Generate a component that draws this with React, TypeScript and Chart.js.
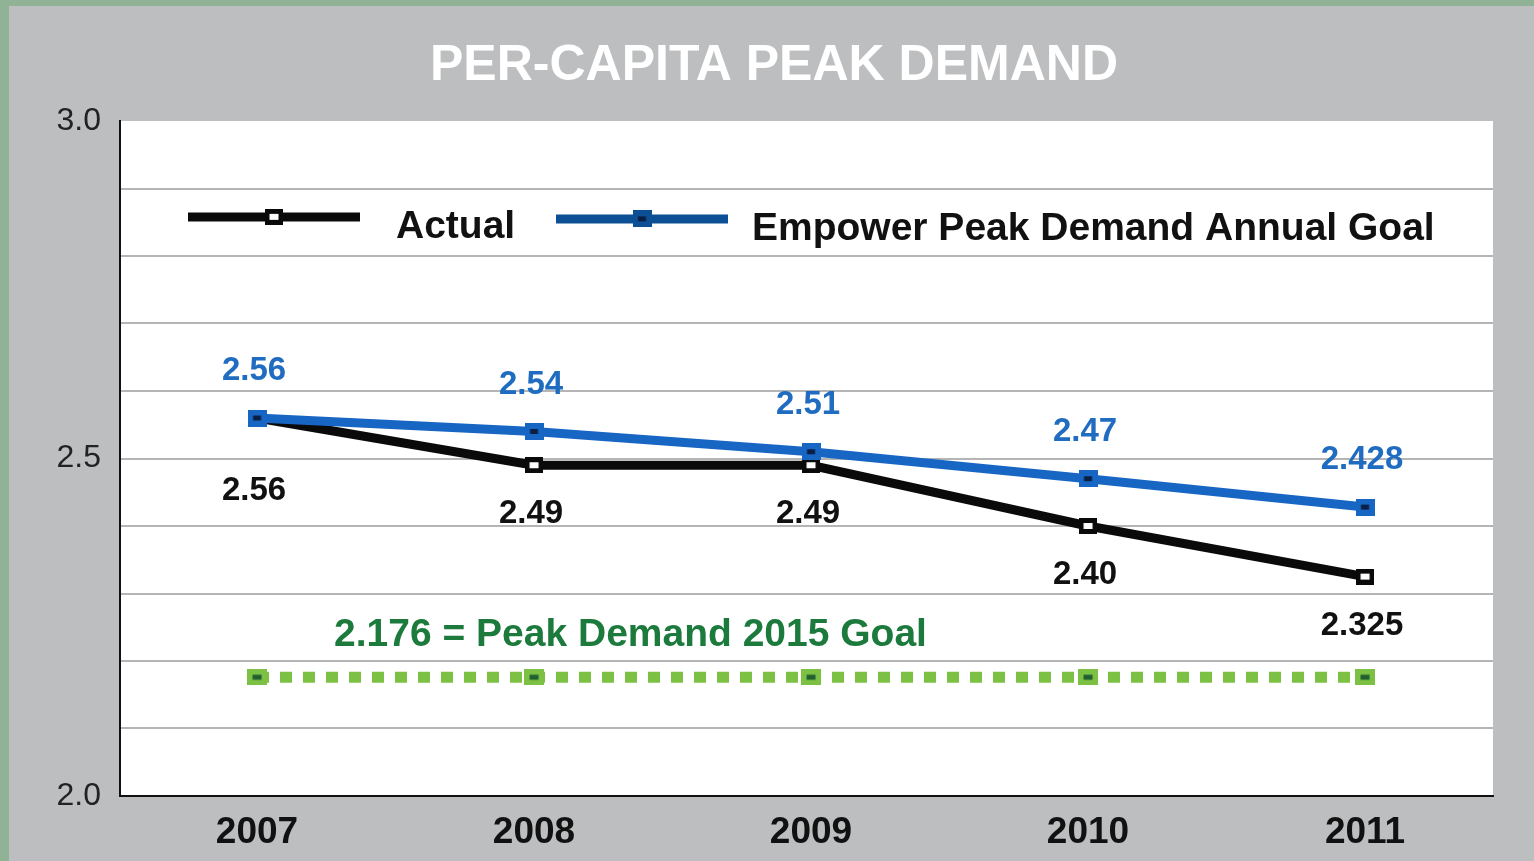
import React, { useEffect, useRef } from "react";
import { Chart, registerables } from "chart.js";

Chart.register(...registerables);

const years = ["2007", "2008", "2009", "2010", "2011"];
const actual = [2.56, 2.49, 2.49, 2.4, 2.325];
const annualGoal = [2.56, 2.54, 2.51, 2.47, 2.428];
const goal2015 = [2.176, 2.176, 2.176, 2.176, 2.176];
const actualLabels = ["2.56", "2.49", "2.49", "2.40", "2.325"];
const annualGoalLabels = ["2.56", "2.54", "2.51", "2.47", "2.428"];
const yTickLabels = ["2.0", "2.5", "3.0"];
const titleText = "PER-CAPITA PEAK DEMAND";
const seriesNames = ["Actual", "Empower Peak Demand Annual Goal"];
const goal2015Text = "2.176 = Peak Demand 2015 Goal";

const FONT = "'Liberation Sans', Arial, sans-serif";
const BLACK = "#0a0a0a";
const BLUE = "#1766c4";
const BLUE_LEGEND = "#0d4f94";
const BLUE_TEXT = "#1f6cc0";
const GREEN = "#7cc143";
const GREEN_TEXT = "#1b7a3c";

function makeMarker(w: number, h: number, outer: string, iw: number, ih: number, inner: string) {
  const c = document.createElement("canvas");
  c.width = w;
  c.height = h;
  const ctx = c.getContext("2d")!;
  ctx.fillStyle = outer;
  ctx.fillRect(0, 0, w, h);
  ctx.fillStyle = inner;
  ctx.fillRect((w - iw) / 2, (h - ih) / 2, iw, ih);
  return c;
}

export default function App() {
  const ref = useRef<HTMLCanvasElement>(null);

  useEffect(() => {
    document.body.style.margin = "0";
    const blackMarker = makeMarker(18, 16, BLACK, 9, 6, "#ffffff");
    const blueMarker = makeMarker(19, 17, BLUE, 8, 5, "#0a1f44");
    const blueLegendMarker = makeMarker(19, 17, BLUE_LEGEND, 8, 5, "#0a1f44");
    const greenMarker = makeMarker(20, 16, GREEN, 9, 5, "#1f5f30");

    const decor = {
      id: "decor",
      beforeDraw(chart: any) {
        const { ctx, chartArea, width, height } = chart;
        ctx.save();
        ctx.fillStyle = "#8fb394";
        ctx.fillRect(0, 0, width, height);
        ctx.fillStyle = "#bdbec0";
        ctx.fillRect(9, 6, width - 9, height - 6);
        ctx.fillStyle = "#ffffff";
        ctx.fillRect(chartArea.left, chartArea.top, chartArea.right - chartArea.left, chartArea.bottom - chartArea.top);
        ctx.fillStyle = "#ffffff";
        ctx.font = `bold 50px ${FONT}`;
        ctx.textAlign = "center";
        ctx.textBaseline = "middle";
        ctx.fillText(titleText, 774, 66);
        ctx.restore();
      },
      afterDatasetsDraw(chart: any) {
        const { ctx } = chart;
        const xs = chart.scales.x;
        const ys = chart.scales.y;
        ctx.save();
        // legend
        const ly = ys.getPixelForValue(2.855);
        ctx.lineWidth = 9;
        ctx.strokeStyle = BLACK;
        ctx.beginPath();
        ctx.moveTo(188, ly - 2);
        ctx.lineTo(360, ly - 2);
        ctx.stroke();
        ctx.drawImage(blackMarker, 274 - 9, ly - 2 - 8);
        ctx.strokeStyle = BLUE_LEGEND;
        ctx.beginPath();
        ctx.moveTo(556, ly);
        ctx.lineTo(728, ly);
        ctx.stroke();
        ctx.drawImage(blueLegendMarker, 642 - 9.5, ly - 8.5);
        ctx.fillStyle = "#111111";
        ctx.font = `bold 39px ${FONT}`;
        ctx.textAlign = "left";
        ctx.textBaseline = "middle";
        ctx.fillText(seriesNames[0], 396, ly + 8);
        ctx.fillText(seriesNames[1], 752, ly + 10);

        // data labels
        ctx.font = `bold 33px ${FONT}`;
        ctx.textAlign = "center";
        years.forEach((_, i) => {
          const x = xs.getPixelForValue(i) - 3;
          const gy = ys.getPixelForValue(annualGoal[i]);
          const ay = ys.getPixelForValue(actual[i]);
          ctx.fillStyle = BLUE_TEXT;
          ctx.fillText(annualGoalLabels[i], x, gy - 47);
          ctx.fillStyle = "#111111";
          const below = actual[i] === annualGoal[i] ? 73 : 49;
          ctx.fillText(actualLabels[i], x, ay + below);
        });

        // 2015 goal text
        ctx.font = `bold 39px ${FONT}`;
        ctx.textAlign = "left";
        ctx.fillStyle = GREEN_TEXT;
        ctx.fillText(goal2015Text, xs.getPixelForValue(0) + 77, ys.getPixelForValue(goal2015[0]) - 42);
        ctx.restore();
      },
    };

    const toPts = (arr: number[]) => arr.map((v, i) => ({ x: i, y: v }));

    const chart = new Chart(ref.current!, {
      type: "line",
      data: {
        datasets: [
          {
            label: seriesNames[1],
            data: toPts(annualGoal),
            borderColor: BLUE,
            borderWidth: 9,
            pointStyle: blueMarker as any,
            pointRadius: 9,
            tension: 0,
          },
          {
            label: seriesNames[0],
            data: toPts(actual),
            borderColor: BLACK,
            borderWidth: 9,
            pointStyle: blackMarker as any,
            pointRadius: 9,
            tension: 0,
          },
          {
            label: "2015 Goal",
            data: toPts(goal2015),
            borderColor: GREEN,
            borderWidth: 11,
            borderDash: [12, 11],
            borderCapStyle: "butt",
            pointStyle: greenMarker as any,
            pointRadius: 9,
            tension: 0,
          },
        ],
      },
      options: {
        animation: false,
        responsive: false,
        devicePixelRatio: 1,
        layout: { padding: { left: 0, top: 121, right: 41, bottom: 0 } },
        plugins: {
          legend: { display: false },
          title: { display: false },
          tooltip: { enabled: false },
        },
        scales: {
          x: {
            type: "linear",
            min: -0.4946,
            max: 4.462,
            afterBuildTicks(scale: any) {
              scale.ticks = years.map((_, i) => ({ value: i }));
            },
            afterFit(scale: any) {
              scale.height = 65;
            },
            ticks: {
              callback: (v: any) => years[Math.round(Number(v))] ?? "",
              font: { family: FONT, size: 37, weight: "bold" },
              color: "#111111",
              padding: 15,
              maxRotation: 0,
              autoSkip: false,
            },
            grid: { display: false, drawTicks: false },
            border: { display: true, color: "#111111", width: 2 },
          },
          y: {
            min: 2,
            max: 3,
            afterFit(scale: any) {
              scale.width = 120;
            },
            ticks: {
              stepSize: 0.1,
              callback: (v: any) => {
                const s = Number(v).toFixed(1);
                return yTickLabels.includes(s) ? s : "";
              },
              font: { family: FONT, size: 32 },
              color: "#222222",
              padding: 19,
              autoSkip: false,
            },
            grid: {
              drawTicks: false,
              lineWidth: 2,
              color: (c: any) => (Math.abs(c.tick.value - 3) < 1e-6 ? "rgba(0,0,0,0)" : "#b5b5b5"),
            },
            border: { display: true, color: "#111111", width: 2 },
          },
        },
      },
      plugins: [decor],
    } as any);

    return () => chart.destroy();
  }, []);

  return <canvas ref={ref} width={1534} height={861} style={{ display: "block", width: 1534, height: 861 }} />;
}
